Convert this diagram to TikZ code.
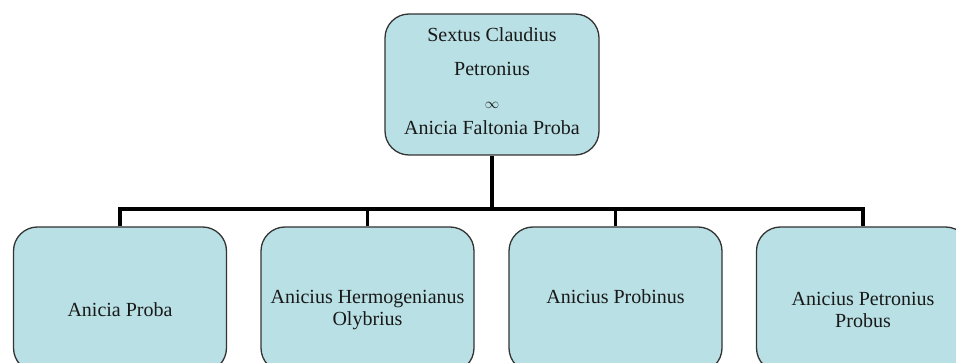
\documentclass[tikz,border=0pt]{standalone}
\usepackage{fontspec}
\setmainfont{Liberation Serif}
\begin{document}
\begin{tikzpicture}[x=1pt,y=-1pt,
  box/.style={draw=black!80, line width=1.3pt, fill=boxfill, rounded corners=24pt, minimum width=213pt, inner sep=0pt},
  txt/.style={text=black!90, font=\fontsize{20}{22}\selectfont, inner sep=0pt, align=center},
  conn/.style={line width=3.8pt, black}]
\definecolor{boxfill}{RGB}{185,224,228}
\clip (0,0) rectangle (956,363);
\useasboundingbox (0,0) rectangle (956,363);
\node[box, minimum height=141pt, minimum width=214pt] (top) at (492,84.5) {};
\node[txt] (t1) at (492,35) {Sextus Claudius};
\node[txt] (t2) at (492,69) {Petronius};
\node[txt, font=\fontsize{15}{16}\selectfont] (t3) at (492,105) {$\infty$};
\node[txt] (t4) at (492,128) {Anicia Faltonia Proba};
\node[box, minimum height=145pt] (b1) at (120,299.5) {};
\node[box, minimum height=145pt] (b2) at (367.5,299.5) {};
\node[box, minimum height=145pt] (b3) at (615.5,299.5) {};
\node[box, minimum height=145pt] (b4) at (863,299.5) {};
\node[txt] (l1) at (120,310) {Anicia Proba};
\node[txt] (l2) at (367.5,310.5) {Anicius Hermogenianus\\Olybrius};
\node[txt] (l3) at (615.5,297) {Anicius Probinus};
\node[txt] (l4) at (863,309.5) {Anicius Petronius\\Probus};
\coordinate (bus) at (492,209);
\draw[conn] (top.south) -- (bus);
\draw[conn] (b1.north) |- (bus) -| (b4.north);
\draw[conn] (b2.north) -- (b2.north |- bus);
\draw[conn] (b3.north) -- (b3.north |- bus);
\end{tikzpicture}
\end{document}
